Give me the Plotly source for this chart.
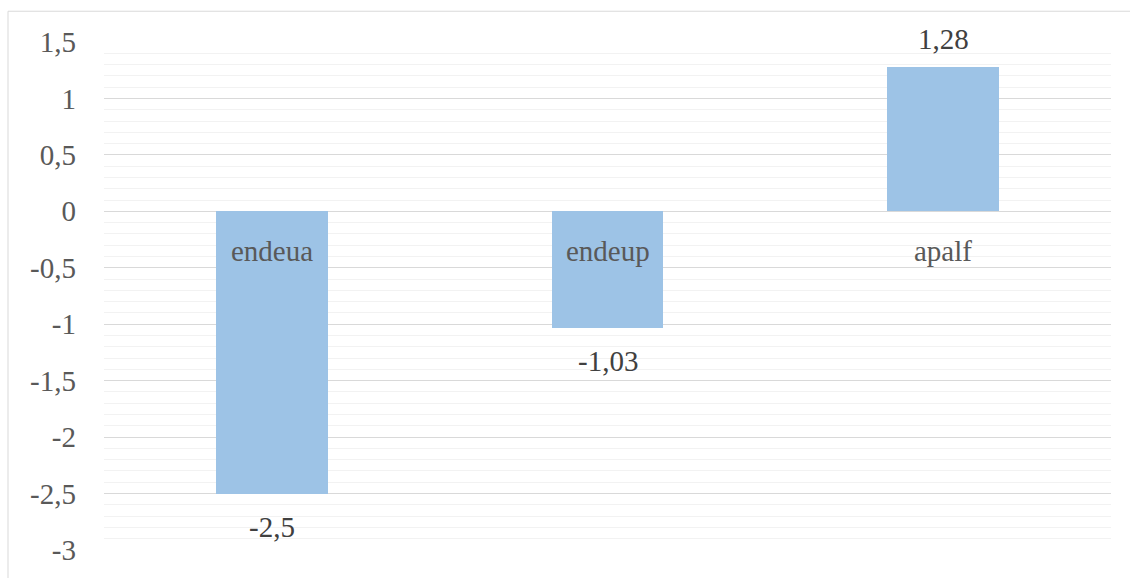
import plotly.graph_objects as go

# Chart data
categories = ["endeua", "endeup", "apalf"]
values = [-2.5, -1.03, 1.28]

# Y axis ticks
tick_vals = [1.5, 1, 0.5, 0, -0.5, -1, -1.5, -2, -2.5, -3]
tick_text = ["1,5", "1", "0,5", "0", "-0,5", "-1", "-1,5", "-2", "-2,5", "-3"]

FONT = "Liberation Serif"


def fmt(v):
    return f"{v:g}".replace(".", ",")


fig = go.Figure()
fig.add_trace(go.Bar(
    x=categories,
    y=values,
    marker=dict(color="#9dc3e6", line=dict(width=0)),
    width=0.333,
    hoverinfo="skip",
))

annotations = []
# value labels outside bar ends
for c, v in zip(categories, values):
    annotations.append(dict(
        x=c, y=v, xref="x", yref="y",
        text=fmt(v), showarrow=False,
        yanchor="middle",
        yshift=28 if v > 0 else -33,
        font=dict(family=FONT, size=29, color="#404040"),
    ))
# category labels next to the zero line
for c in categories:
    annotations.append(dict(
        x=c, y=0, xref="x", yref="y",
        text=c, showarrow=False,
        yanchor="middle", yshift=-40,
        font=dict(family=FONT, size=29, color="#595959"),
    ))

L, R, T, B = 104, 19, 42, 24
W, H = 1130, 578
pw, ph = W - L - R, H - T - B

fig.update_layout(
    width=W, height=H,
    margin=dict(l=L, r=R, t=T, b=B, pad=0),
    paper_bgcolor="white",
    plot_bgcolor="white",
    showlegend=False,
    bargap=0,
    font=dict(family=FONT),
    annotations=annotations,
    xaxis=dict(
        showticklabels=False, showgrid=False, zeroline=False,
        showline=False, ticks="",
    ),
    yaxis=dict(
        range=[-3, 1.5],
        tickvals=tick_vals, ticktext=tick_text,
        tickfont=dict(family=FONT, size=29, color="#595959"),
        ticklabelstandoff=27,
        showgrid=True, gridcolor="#d9d9d9", gridwidth=1,
        zeroline=True, zerolinecolor="#d9d9d9", zerolinewidth=1,
        showline=False, ticks="",
        minor=dict(dtick=0.1, tick0=0, showgrid=True,
                   gridcolor="#f2f2f2", gridwidth=1),
    ),
    shapes=[dict(
        type="rect", xref="paper", yref="paper",
        x0=(8 - L) / pw, x1=1 + (R + 20) / pw,
        y0=-(B + 20) / ph, y1=1 + (T - 11) / ph,
        line=dict(color="#d9d9d9", width=1),
        fillcolor="rgba(0,0,0,0)",
        layer="below",
    )],
)

fig.write_html("out.html")
